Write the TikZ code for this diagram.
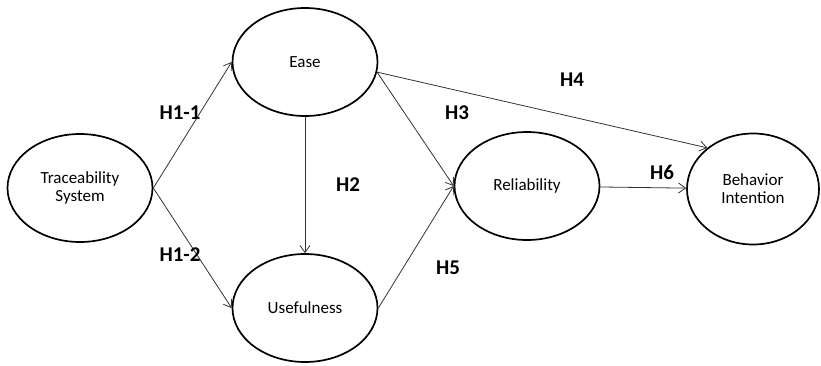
\documentclass[tikz,border=0pt]{standalone}
\usepackage{fontspec}
\setmainfont{Carlito}
\usepackage{tikz}
\usetikzlibrary{arrows.meta,shapes.geometric}

\tikzset{
  construct/.style={draw,line width=1.7pt,ellipse,inner sep=0pt,
    minimum width=145pt,minimum height=108pt,align=center,
    font=\fontsize{17}{18}\selectfont},
  path/.style={draw,line width=0.8pt,black!80,
    -{Straight Barb[length=7pt,width=10pt,line width=0.8pt]}},
  hyp/.style={font=\bfseries\fontsize{21}{22}\selectfont}
}

\begin{document}
\begin{tikzpicture}[x=1pt,y=-1pt]

\useasboundingbox (0,0) rectangle (821,365);

% Constructs
\node[construct] (trace) at (80,188) {Traceability\\System};
\node[construct] (ease) at (305,62) {Ease};
\node[construct] (use) at (305,308) {Usefulness};
\node[construct] (rel) at (527,186) {Reliability};
\node[construct,minimum width=132pt,minimum height=111pt] (beh) at (753,189) {Behavior\\Intention};

% Paths
\draw[path] (trace.east) -- (ease.west);
\draw[path] (trace.east) -- (use.west);
\draw[path] (ease.south) -- (use.north);
\draw[path] (ease.-8) -- (rel.west);
\draw[path] (use.east) -- (rel.west);
\draw[path] (ease.-8) -- (beh.138);
\draw[path] (rel) -- (beh);

% Hypotheses
\node[hyp] (h11) at (180,113) {H1-1};
\node[hyp] (h12) at (180,255) {H1-2};
\node[hyp] (h2) at (348,185) {H2};
\node[hyp] (h3) at (457,113) {H3};
\node[hyp] (h4) at (572,80) {H4};
\node[hyp] (h5) at (448,268) {H5};
\node[hyp] (h6) at (662,172) {H6};

\end{tikzpicture}
\end{document}
